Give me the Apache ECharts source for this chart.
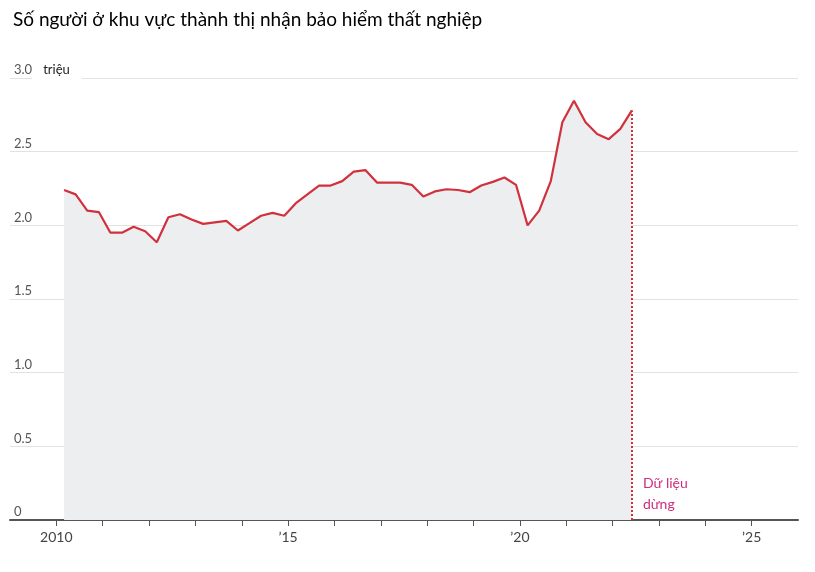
<!DOCTYPE html>
<html>
<head>
<meta charset="utf-8">
<script src="https://cdn.jsdelivr.net/npm/echarts@6/dist/echarts.min.js"></script>
<style>
html, body { margin: 0; padding: 0; background: #fff; }
#chart { width: 815px; height: 572px; }
</style>
</head>
<body>
<div id="chart"></div>
<script type="text/javascript">

// quarterly readings, year-month of each point
var quarters = [
	'2010-03', '2010-06', '2010-09', '2010-12', '2011-03', '2011-06', '2011-09', '2011-12',
	'2012-03', '2012-06', '2012-09', '2012-12', '2013-03', '2013-06', '2013-09', '2013-12',
	'2014-03', '2014-06', '2014-09', '2014-12', '2015-03', '2015-06', '2015-09', '2015-12',
	'2016-03', '2016-06', '2016-09', '2016-12', '2017-03', '2017-06', '2017-09', '2017-12',
	'2018-03', '2018-06', '2018-09', '2018-12', '2019-03', '2019-06', '2019-09', '2019-12',
	'2020-03', '2020-06', '2020-09', '2020-12', '2021-03', '2021-06', '2021-09', '2021-12',
	'2022-03', '2022-06'
];
// triệu người
var values = [
	2.24, 2.21, 2.10, 2.09, 1.95, 1.95, 1.99, 1.96, 1.885, 2.055,
	2.075, 2.04, 2.01, 2.02, 2.03, 1.965, 2.015, 2.065, 2.085, 2.065,
	2.15, 2.21, 2.27, 2.27, 2.30, 2.365, 2.375, 2.29, 2.29, 2.29,
	2.275, 2.195, 2.23, 2.245, 2.24, 2.225, 2.27, 2.295, 2.325, 2.275,
	2.00, 2.10, 2.30, 2.70, 2.845, 2.70, 2.62, 2.585, 2.655, 2.78
];
var yearTicks = [2010, 2011, 2012, 2013, 2014, 2015, 2016, 2017, 2018, 2019, 2020, 2021, 2022, 2023, 2024, 2025];
var yearLabels = [2010, 2015, 2020, 2025];
var yearLabelText = { 2010: '2010', 2015: '\u201915', 2020: '\u201920', 2025: '\u201925' };

var fontName = 'Lato, "Noto Sans", sans-serif';

function toYear(s) {
	var p = s.split('-');
	return parseInt(p[0], 10) + (parseInt(p[1], 10) - 1) / 12;
}

var seriesData = [];
for (var i = 0; i < quarters.length; i++) {
	seriesData.push([toYear(quarters[i]), values[i]]);
}
var last = seriesData[seriesData.length - 1];

var chart = echarts.init(document.getElementById('chart'));

var option = {
	animation: false,
	textStyle: { fontFamily: fontName },
	title: {
		text: 'Số người ở khu vực thành thị nhận bảo hiểm thất nghiệp',
		left: 8,
		top: 5,
		textStyle: { fontFamily: fontName, fontSize: 19, fontWeight: 'normal', color: '#000' }
	},
	grid: { left: 10, right: 17, top: 78, bottom: 52 },
	xAxis: {
		type: 'value',
		min: 2009,
		max: 2026,
		axisLine: { lineStyle: { color: '#555', width: 2 } },
		axisTick: {
			customValues: yearTicks,
			length: 6,
			lineStyle: { color: '#555', width: 1 }
		},
		axisLabel: {
			customValues: yearLabels,
			color: '#444',
			fontSize: 14,
			margin: 10,
			formatter: function (v) { return yearLabelText[v] || ''; }
		},
		splitLine: { show: false }
	},
	yAxis: {
		type: 'value',
		min: 0,
		max: 3,
		interval: 0.5,
		axisLine: { show: false },
		axisTick: { show: false },
		splitLine: { lineStyle: { color: '#e2e2e2', width: 1 } },
		axisLabel: {
			inside: true,
			margin: 4,
			formatter: function (v) {
				if (v === 0) return '{a|0}';
				if (v === 3) return '{a|3.0}{b|triệu}';
				return '{a|' + v.toFixed(1) + '}';
			},
			rich: {
				a: { color: '#555', fontSize: 13, lineHeight: 14, padding: [0, 0, 16, 0] },
				b: { color: '#222', fontSize: 13, lineHeight: 14, padding: [0, 12, 16, 11], backgroundColor: '#fff' }
			}
		}
	},
	series: [{
		type: 'line',
		data: seriesData,
		symbol: 'none',
		lineStyle: { color: '#d0313c', width: 2.2 },
		areaStyle: { color: '#edeef0', opacity: 1 },
		markLine: {
			silent: true,
			symbol: 'none',
			label: { show: false },
			lineStyle: { color: '#d0313c', type: 'dotted', width: 2 },
			data: [[{ coord: [last[0], 0] }, { coord: [last[0], last[1]] }]]
		},
		markPoint: {
			silent: true,
			symbol: 'circle',
			symbolSize: 0,
			data: [{
				coord: [last[0], 0],
				label: {
					show: true,
					position: [11, -47],
					formatter: 'Dữ liệu\ndừng',
					color: '#cf2c7c',
					fontSize: 14,
					lineHeight: 21,
					align: 'left',
					verticalAlign: 'top'
				}
			}]
		}
	}]
};

chart.setOption(option);
</script>
</body>
</html>
